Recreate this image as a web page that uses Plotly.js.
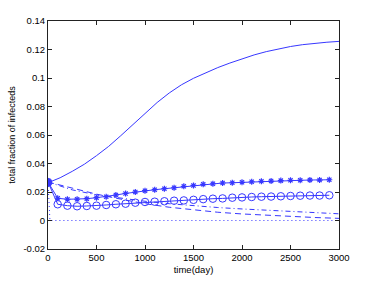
<!DOCTYPE html>
<html>
<head>
<meta charset="utf-8">
<script src="https://cdn.plot.ly/plotly-3.0.1.min.js"></script>
<style>html,body{margin:0;padding:0;background:#fff;}#chart{width:374px;height:281px;}</style>
</head>
<body>
<div id="chart"></div>
<script>
// Solid curve
var tSolid = [0, 125, 250, 375, 500, 625, 750, 875, 1000, 1125, 1250, 1375, 1500, 1625, 1750, 1875, 2000, 2125, 2250, 2375, 2500, 2625, 2750, 2875, 3000];
var ySolid = [0.0265, 0.030, 0.0345, 0.0395, 0.0455, 0.052, 0.0595, 0.0672, 0.0752, 0.0828, 0.0895, 0.0952, 0.0998, 0.1038, 0.1073, 0.1105, 0.1135, 0.1162, 0.1185, 0.1205, 0.1221, 0.1234, 0.1244, 0.1251, 0.1257];

// Star-marked series
var tStar = [0, 100, 200, 300, 400, 500, 600, 700, 800, 900, 1000, 1100, 1200, 1300, 1400, 1500, 1600, 1700, 1800, 1900, 2000, 2100, 2200, 2300, 2400, 2500, 2600, 2700, 2800, 2900];
var yStar = [0.027, 0.0156, 0.0149, 0.0149, 0.0153, 0.016, 0.0167, 0.0179, 0.019, 0.020, 0.0209, 0.0216, 0.0223, 0.023, 0.024, 0.0246, 0.0254, 0.0258, 0.0263, 0.0265, 0.0268, 0.0272, 0.0275, 0.0277, 0.028, 0.0282, 0.0282, 0.0284, 0.0284, 0.0286];

// Circle-marked series
var tCirc = [0, 100, 200, 300, 400, 500, 600, 700, 800, 900, 1000, 1100, 1200, 1300, 1400, 1500, 1600, 1700, 1800, 1900, 2000, 2100, 2200, 2300, 2400, 2500, 2600, 2700, 2800, 2900];
var yCirc = [0.027, 0.0114, 0.0104, 0.0100, 0.0102, 0.0104, 0.0109, 0.0114, 0.0118, 0.0125, 0.013, 0.0132, 0.0135, 0.0139, 0.0141, 0.0145, 0.015, 0.0153, 0.0155, 0.016, 0.0162, 0.0165, 0.0167, 0.0168, 0.017, 0.0172, 0.0174, 0.0175, 0.0175, 0.0177];

// Dashed series
var tDash = [0, 250, 500, 750, 1000, 1250, 1500, 1750, 2000, 2250, 2500, 2750, 3000];
var yDash = [0.027, 0.0225, 0.0185, 0.015, 0.0118, 0.0093, 0.0073, 0.0058, 0.0046, 0.0036, 0.0028, 0.0021, 0.0015];

// Dash-dot series
var tDashDot = [0, 250, 500, 750, 1000, 1250, 1500, 1750, 2000, 2250, 2500, 2750, 3000];
var yDashDot = [0.027, 0.0215, 0.018, 0.0155, 0.0135, 0.0118, 0.0103, 0.0091, 0.0081, 0.0072, 0.0064, 0.0055, 0.0047];

// Dotted series
var tDot = [0, 20, 3000];
var yDot = [0.027, 0.0, 0.0];

var xTicks = [0, 500, 1000, 1500, 2000, 2500, 3000];
var xTickText = ['0', '500', '1000', '1500', '2000', '2500', '3000'];
var yTicks = [-0.02, 0, 0.02, 0.04, 0.06, 0.08, 0.1, 0.12, 0.14];
var yTickText = ['-0.02', '0', '0.02', '0.04', '0.06', '0.08', '0.1', '0.12', '0.14'];

var blue = 'rgb(55,55,255)';
var traces = [
  {x: tSolid, y: ySolid, mode: 'lines', line: {color: blue, width: 1}},
  {x: tDash, y: yDash, mode: 'lines', line: {color: blue, width: 1, dash: '6px,4px'}},
  {x: tDashDot, y: yDashDot, mode: 'lines', line: {color: blue, width: 1, dash: '5px,3px,1px,3px'}},
  {x: tDot, y: yDot, mode: 'lines', line: {color: blue, width: 1, dash: '1px,3px'}},
  {x: tStar, y: yStar, mode: 'lines+markers', line: {color: blue, width: 1},
   marker: {symbol: 'asterisk-open', size: 5, color: blue, line: {color: blue, width: 1.2}}},
  {x: tCirc, y: yCirc, mode: 'lines+markers', line: {color: blue, width: 1},
   marker: {symbol: 'circle-open', size: 7.5, color: blue, line: {color: blue, width: 1}}},
  {x: [tSolid[0]], y: [ySolid[0]], mode: 'markers', marker: {symbol: 'circle', size: 8, color: blue}}
];

var axisCommon = {
  showgrid: false, zeroline: false, showline: true, linecolor: '#222', linewidth: 1,
  mirror: 'ticks', ticks: 'inside', ticklen: 4, tickcolor: '#222', tickwidth: 1,
  tickfont: {family: 'Liberation Sans, Arial, sans-serif', size: 9.5, color: '#000'}
};

var layout = {
  width: 374, height: 281,
  margin: {l: 48, r: 35, t: 21, b: 32},
  paper_bgcolor: '#fff', plot_bgcolor: '#fff',
  showlegend: false,
  xaxis: Object.assign({}, axisCommon, {
    range: [0, 3000], tickvals: xTicks, ticktext: xTickText,
    title: {text: 'time(day)', font: {family: 'Liberation Sans, Arial, sans-serif', size: 9.5, color: '#000'}, standoff: 3}
  }),
  yaxis: Object.assign({}, axisCommon, {
    range: [-0.02, 0.14], tickvals: yTicks, ticktext: yTickText,
    title: {text: 'total fraction of infecteds', font: {family: 'Liberation Sans, Arial, sans-serif', size: 9, color: '#000'}, standoff: 6}
  })
};

Plotly.newPlot('chart', traces, layout, {staticPlot: true, displayModeBar: false});
</script>
</body>
</html>
